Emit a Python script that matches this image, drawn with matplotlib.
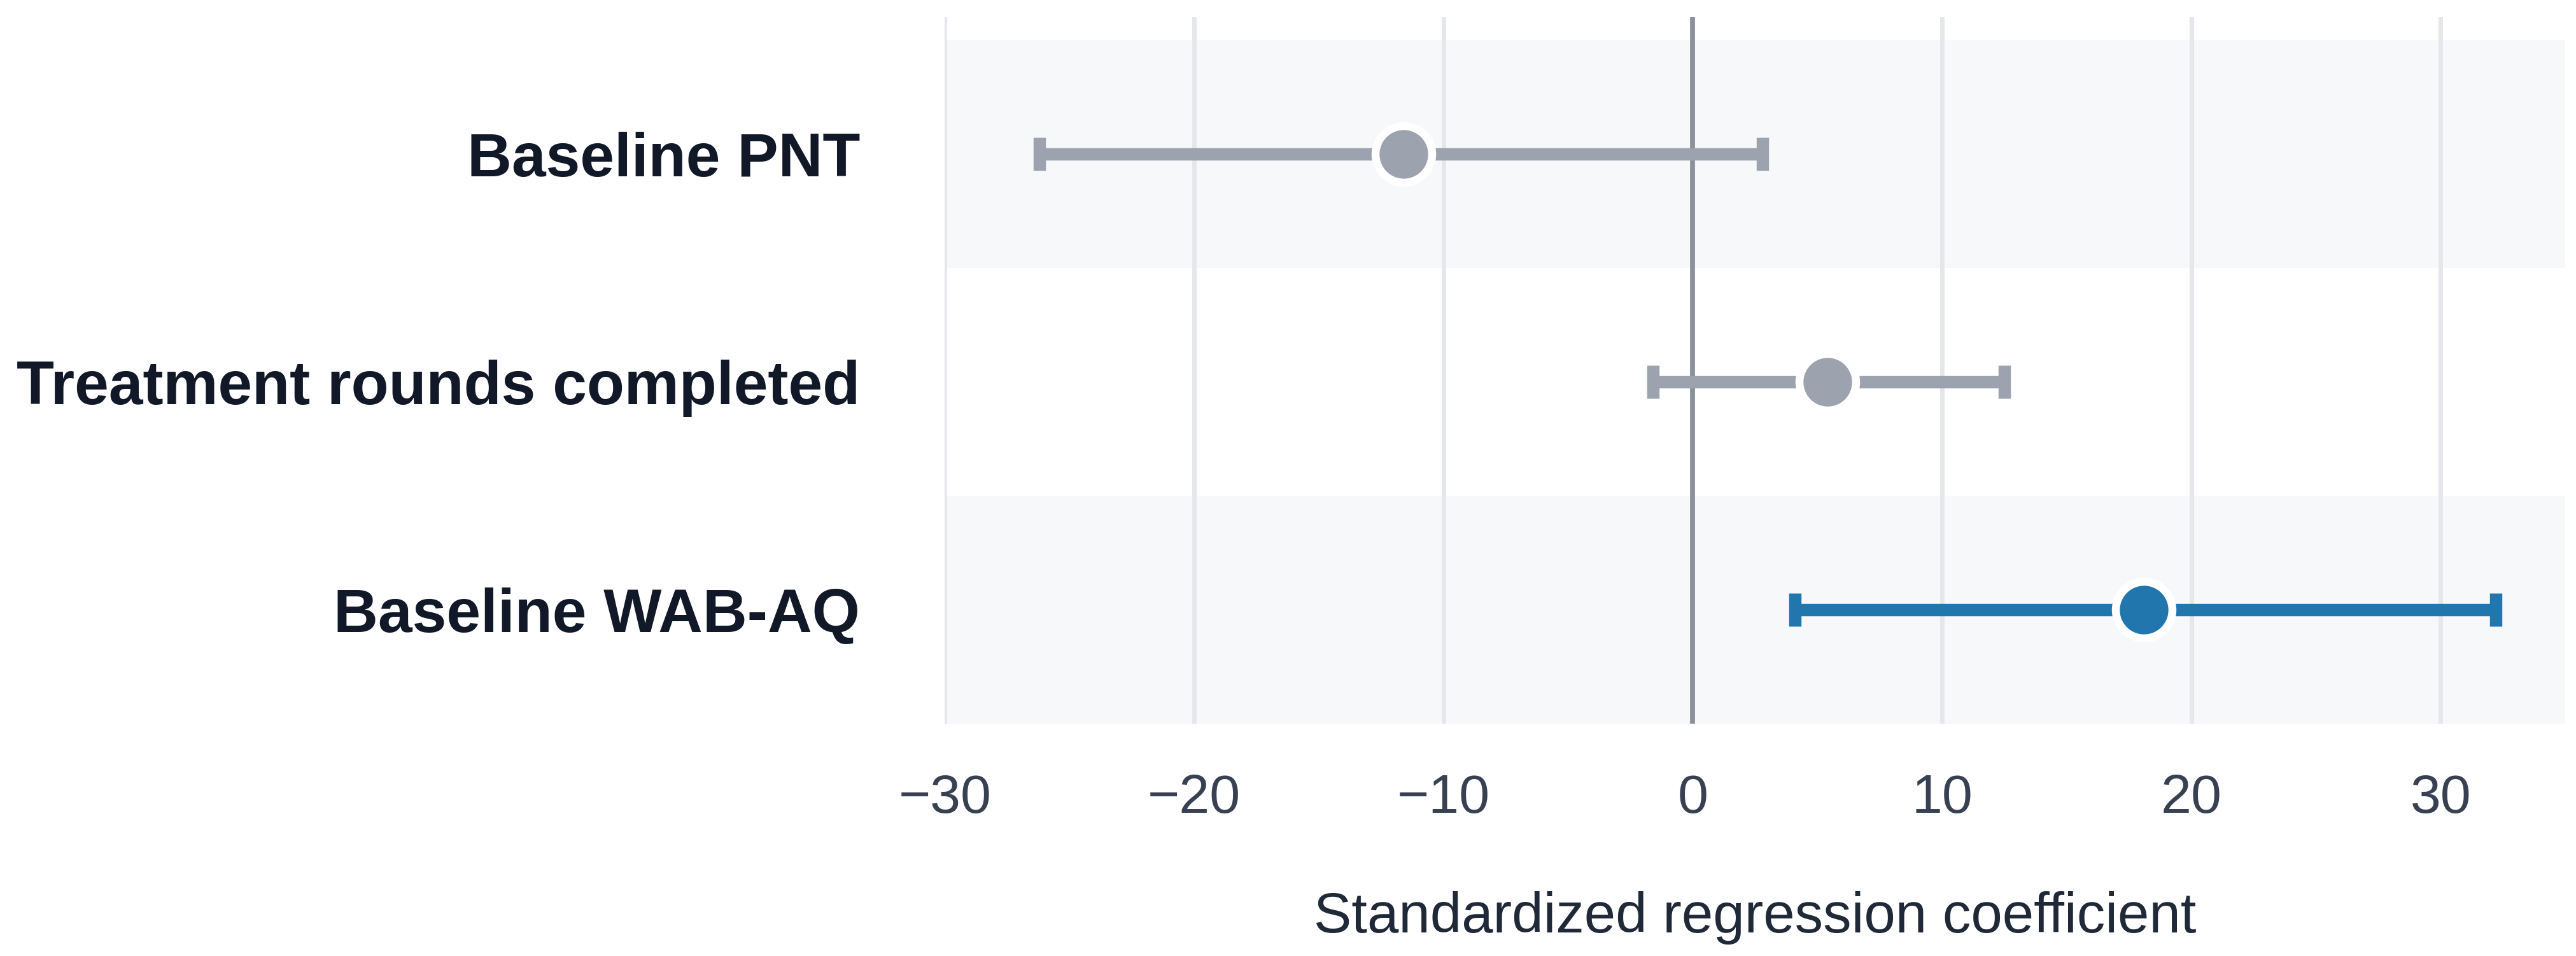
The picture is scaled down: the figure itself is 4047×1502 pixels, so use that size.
import matplotlib.pyplot as plt
import numpy as np

plt.rcParams['font.family'] = ['Liberation Sans', 'DejaVu Sans']

# Coefficients and 95% intervals
predictors = ["Baseline PNT", "Treatment rounds completed", "Baseline WAB-AQ"]
estimates = [-11.6, 5.4, 18.1]
ci_low = [-26.2, -1.6, 4.1]
ci_high = [2.8, 12.5, 32.2]
significant = [False, False, True]

gray = "#9ca3af"
blue = "#2176ae"

fig = plt.figure(figsize=(20.24, 7.51), dpi=200)
ax = fig.add_axes([0.3667, 0.243, 0.6289, 0.739])

ypos = np.arange(len(predictors))

# alternating row bands
for i in ypos:
    if i % 2 == 0:
        ax.axhspan(i - 0.5, i + 0.5, color="#f7f8fa", zorder=0, lw=0)

for i, (est, lo, hi, sig) in enumerate(zip(estimates, ci_low, ci_high, significant)):
    c = blue if sig else gray
    ax.errorbar(est, i, xerr=[[est - lo], [hi - est]], fmt="none", ecolor=c,
                elinewidth=7, capsize=9.5, capthick=7, zorder=3)
    ax.plot(est, i, "o", ms=32, color=c, mec="white", mew=4.5, zorder=4)

ax.axvline(0, color="#8b929c", lw=2.8, zorder=2)

ax.set_xlim(-30, 35)
ax.set_ylim(2.5, -0.6)
ax.set_xticks([-30, -20, -10, 0, 10, 20, 30])
ax.set_xticklabels(["\u221230", "\u221220", "\u221210", "0", "10", "20", "30"])
ax.set_yticks(ypos)
ax.set_yticklabels(predictors, fontsize=34.8, fontweight="bold", color="#111827")
ax.tick_params(axis="x", length=0, pad=28, labelsize=31, labelcolor="#374151")
ax.tick_params(axis="y", length=0, pad=48)
ax.grid(axis="x", color="#e5e7eb", lw=2.5, zorder=1)
ax.set_axisbelow(True)
for s in ax.spines.values():
    s.set_visible(False)

ax.set_xlabel("Standardized regression coefficient", fontsize=32, color="#1f2937", labelpad=38)

fig.savefig("out.png", dpi=200, facecolor="white")
